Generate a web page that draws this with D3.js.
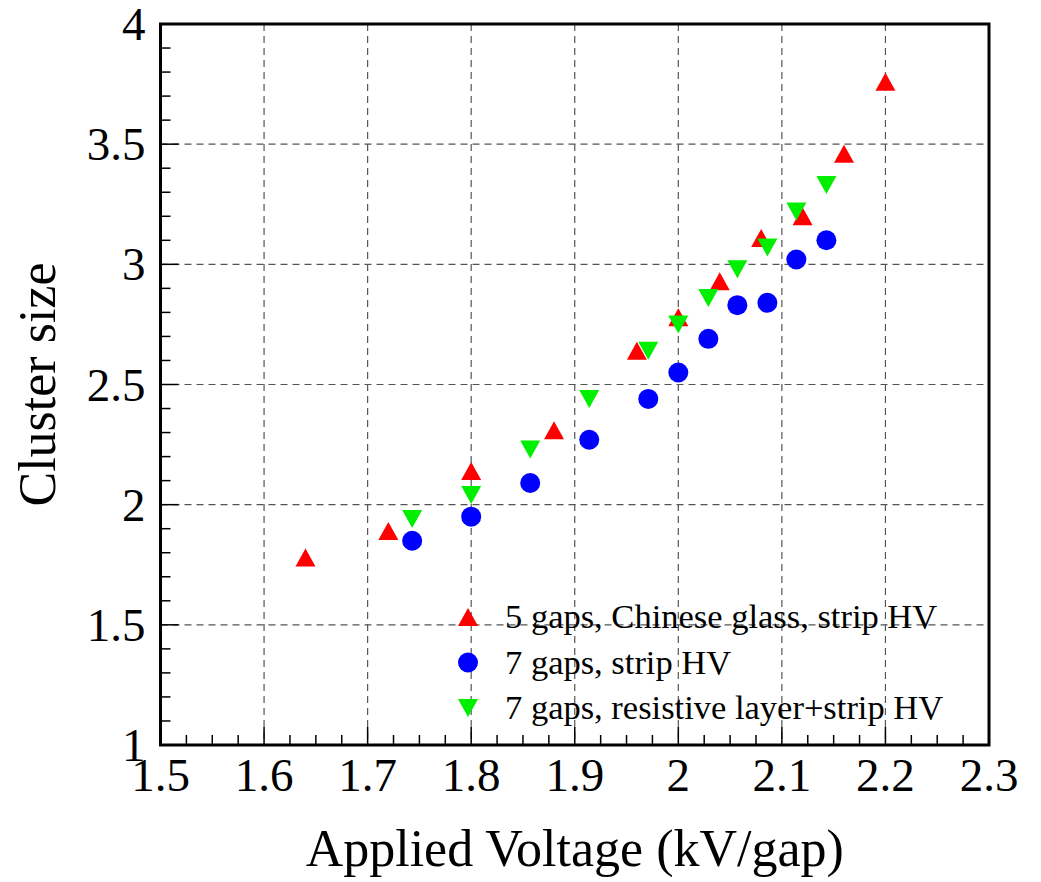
<!DOCTYPE html>
<html>
<head>
<meta charset="utf-8">
<script src="https://cdn.jsdelivr.net/npm/d3@7"></script>
<style>
  body { margin: 0; background: #fff; }
  text { font-family: "Liberation Serif", "Times New Roman", serif; fill: #000; }
</style>
</head>
<body>
<div id="chart"></div>
<script>
// values
var xTicks = [1.5, 1.6, 1.7, 1.8, 1.9, 2.0, 2.1, 2.2, 2.3];
var xTickLabels = ["1.5", "1.6", "1.7", "1.8", "1.9", "2", "2.1", "2.2", "2.3"];
var yTicks = [1, 1.5, 2, 2.5, 3, 3.5, 4];
var yTickLabels = ["1", "1.5", "2", "2.5", "3", "3.5", "4"];

// 5 gaps, Chinese glass, strip HV
var redX = [1.64, 1.72, 1.80, 1.88, 1.96, 2.00, 2.04, 2.08, 2.12, 2.16, 2.20];
var redY = [1.78, 1.89, 2.14, 2.31, 2.64, 2.78, 2.93, 3.11, 3.20, 3.46, 3.76];
// 7 gaps, strip HV
var blueX = [1.743, 1.800, 1.857, 1.914, 1.971, 2.000, 2.029, 2.057, 2.086, 2.114, 2.143];
var blueY = [1.85, 1.95, 2.09, 2.27, 2.44, 2.55, 2.69, 2.83, 2.84, 3.02, 3.10];
// 7 gaps, resistive layer+strip HV
var greenX = [1.743, 1.800, 1.857, 1.914, 1.971, 2.000, 2.029, 2.057, 2.086, 2.114, 2.143];
var greenY = [1.94, 2.04, 2.23, 2.44, 2.64, 2.75, 2.86, 2.98, 3.07, 3.22, 3.33];

var legendLabels = ["5 gaps, Chinese glass, strip HV", "7 gaps, strip HV", "7 gaps, resistive layer+strip HV"];

var svgWidth = 1041, svgHeight = 882;
var margin = { top: 24, right: 52, bottom: 137, left: 160.5 };
var width = svgWidth - margin.left - margin.right;
var height = svgHeight - margin.top - margin.bottom;

var svg = d3.select("#chart").append("svg")
  .attr("width", svgWidth)
  .attr("height", svgHeight);

var chartGroup = svg.append("g")
  .attr("transform", `translate(${margin.left}, ${margin.top})`);

var x = d3.scaleLinear().domain([1.5, 2.3]).range([0, width]);
var y = d3.scaleLinear().domain([1, 4]).range([height, 0]);

// dashed grid
chartGroup.append("g").selectAll("line")
  .data(xTicks.slice(1, -1))
  .enter().append("line")
  .attr("x1", d => x(d)).attr("x2", d => x(d))
  .attr("y1", 0).attr("y2", height)
  .attr("stroke", "#555").attr("stroke-width", 1.2)
  .attr("stroke-dasharray", "7,5");
chartGroup.append("g").selectAll("line")
  .data(yTicks.slice(1, -1))
  .enter().append("line")
  .attr("y1", d => y(d)).attr("y2", d => y(d))
  .attr("x1", 0).attr("x2", width)
  .attr("stroke", "#555").attr("stroke-width", 1.2)
  .attr("stroke-dasharray", "7,5");

// ticks (inside, bottom and left only)
var xMinor = d3.range(1.5, 2.3001, 0.025);
chartGroup.append("g").selectAll("line")
  .data(xMinor)
  .enter().append("line")
  .attr("x1", d => x(d)).attr("x2", d => x(d))
  .attr("y1", height)
  .attr("y2", (d, i) => height - (i % 4 === 0 ? 18 : 10))
  .attr("stroke", "#000").attr("stroke-width", 1.5);
var yMinor = d3.range(1, 4.0001, 0.1);
chartGroup.append("g").selectAll("line")
  .data(yMinor)
  .enter().append("line")
  .attr("y1", d => y(d)).attr("y2", d => y(d))
  .attr("x1", 0)
  .attr("x2", (d, i) => (i % 5 === 0 ? 18 : 10))
  .attr("stroke", "#000").attr("stroke-width", 1.5);

// frame
chartGroup.append("rect")
  .attr("x", 0).attr("y", 0)
  .attr("width", width).attr("height", height)
  .attr("fill", "none").attr("stroke", "#000").attr("stroke-width", 3);

// tick labels
chartGroup.append("g").selectAll("text")
  .data(xTicks)
  .enter().append("text")
  .attr("x", d => x(d))
  .attr("y", height + 46)
  .attr("text-anchor", "middle")
  .attr("font-size", "47px")
  .text((d, i) => xTickLabels[i]);
chartGroup.append("g").selectAll("text")
  .data(yTicks)
  .enter().append("text")
  .attr("x", -15)
  .attr("y", d => y(d) + 16)
  .attr("text-anchor", "end")
  .attr("font-size", "47px")
  .text((d, i) => yTickLabels[i]);

// axis titles
chartGroup.append("text")
  .attr("x", width / 2)
  .attr("y", height + 121)
  .attr("text-anchor", "middle")
  .attr("font-size", "52px")
  .text("Applied Voltage (kV/gap)");
chartGroup.append("text")
  .attr("transform", "rotate(-90)")
  .attr("x", -height / 2)
  .attr("y", 55 - margin.left)
  .attr("text-anchor", "middle")
  .attr("font-size", "52px")
  .text("Cluster size");

// marker shapes
var triUp = "M0,-9L10,9L-10,9Z";
var triDown = "M0,9L10,-9L-10,-9Z";

function drawSeries(xs, ys, kind, color) {
  var g = chartGroup.append("g");
  var pts = xs.map((d, i) => [d, ys[i]]);
  if (kind === "circle") {
    g.selectAll("circle").data(pts).enter().append("circle")
      .attr("cx", d => x(d[0])).attr("cy", d => y(d[1]))
      .attr("r", 10).attr("fill", color);
  } else {
    g.selectAll("path").data(pts).enter().append("path")
      .attr("d", kind === "up" ? triUp : triDown)
      .attr("transform", d => `translate(${x(d[0])},${y(d[1])})`)
      .attr("fill", color);
  }
}

drawSeries(redX, redY, "up", "#ff0000");
drawSeries(blueX, blueY, "circle", "#0000ff");
drawSeries(greenX, greenY, "down", "#00ee00");

// legend
var legendKinds = ["up", "circle", "down"];
var legendColors = ["#ff0000", "#0000ff", "#00ee00"];
var legend = chartGroup.append("g")
  .attr("transform", `translate(${468 - margin.left}, ${617 - margin.top})`);
legendLabels.forEach(function(lbl, i) {
  var row = legend.append("g").attr("transform", `translate(0, ${i * 45.5})`);
  if (legendKinds[i] === "circle") {
    row.append("circle").attr("r", 10).attr("fill", legendColors[i]);
  } else {
    row.append("path").attr("d", legendKinds[i] === "up" ? triUp : triDown)
      .attr("fill", legendColors[i]);
  }
  row.append("text")
    .attr("x", 37)
    .attr("y", 11)
    .attr("font-size", "34.5px")
    .text(lbl);
});
</script>
</body>
</html>
